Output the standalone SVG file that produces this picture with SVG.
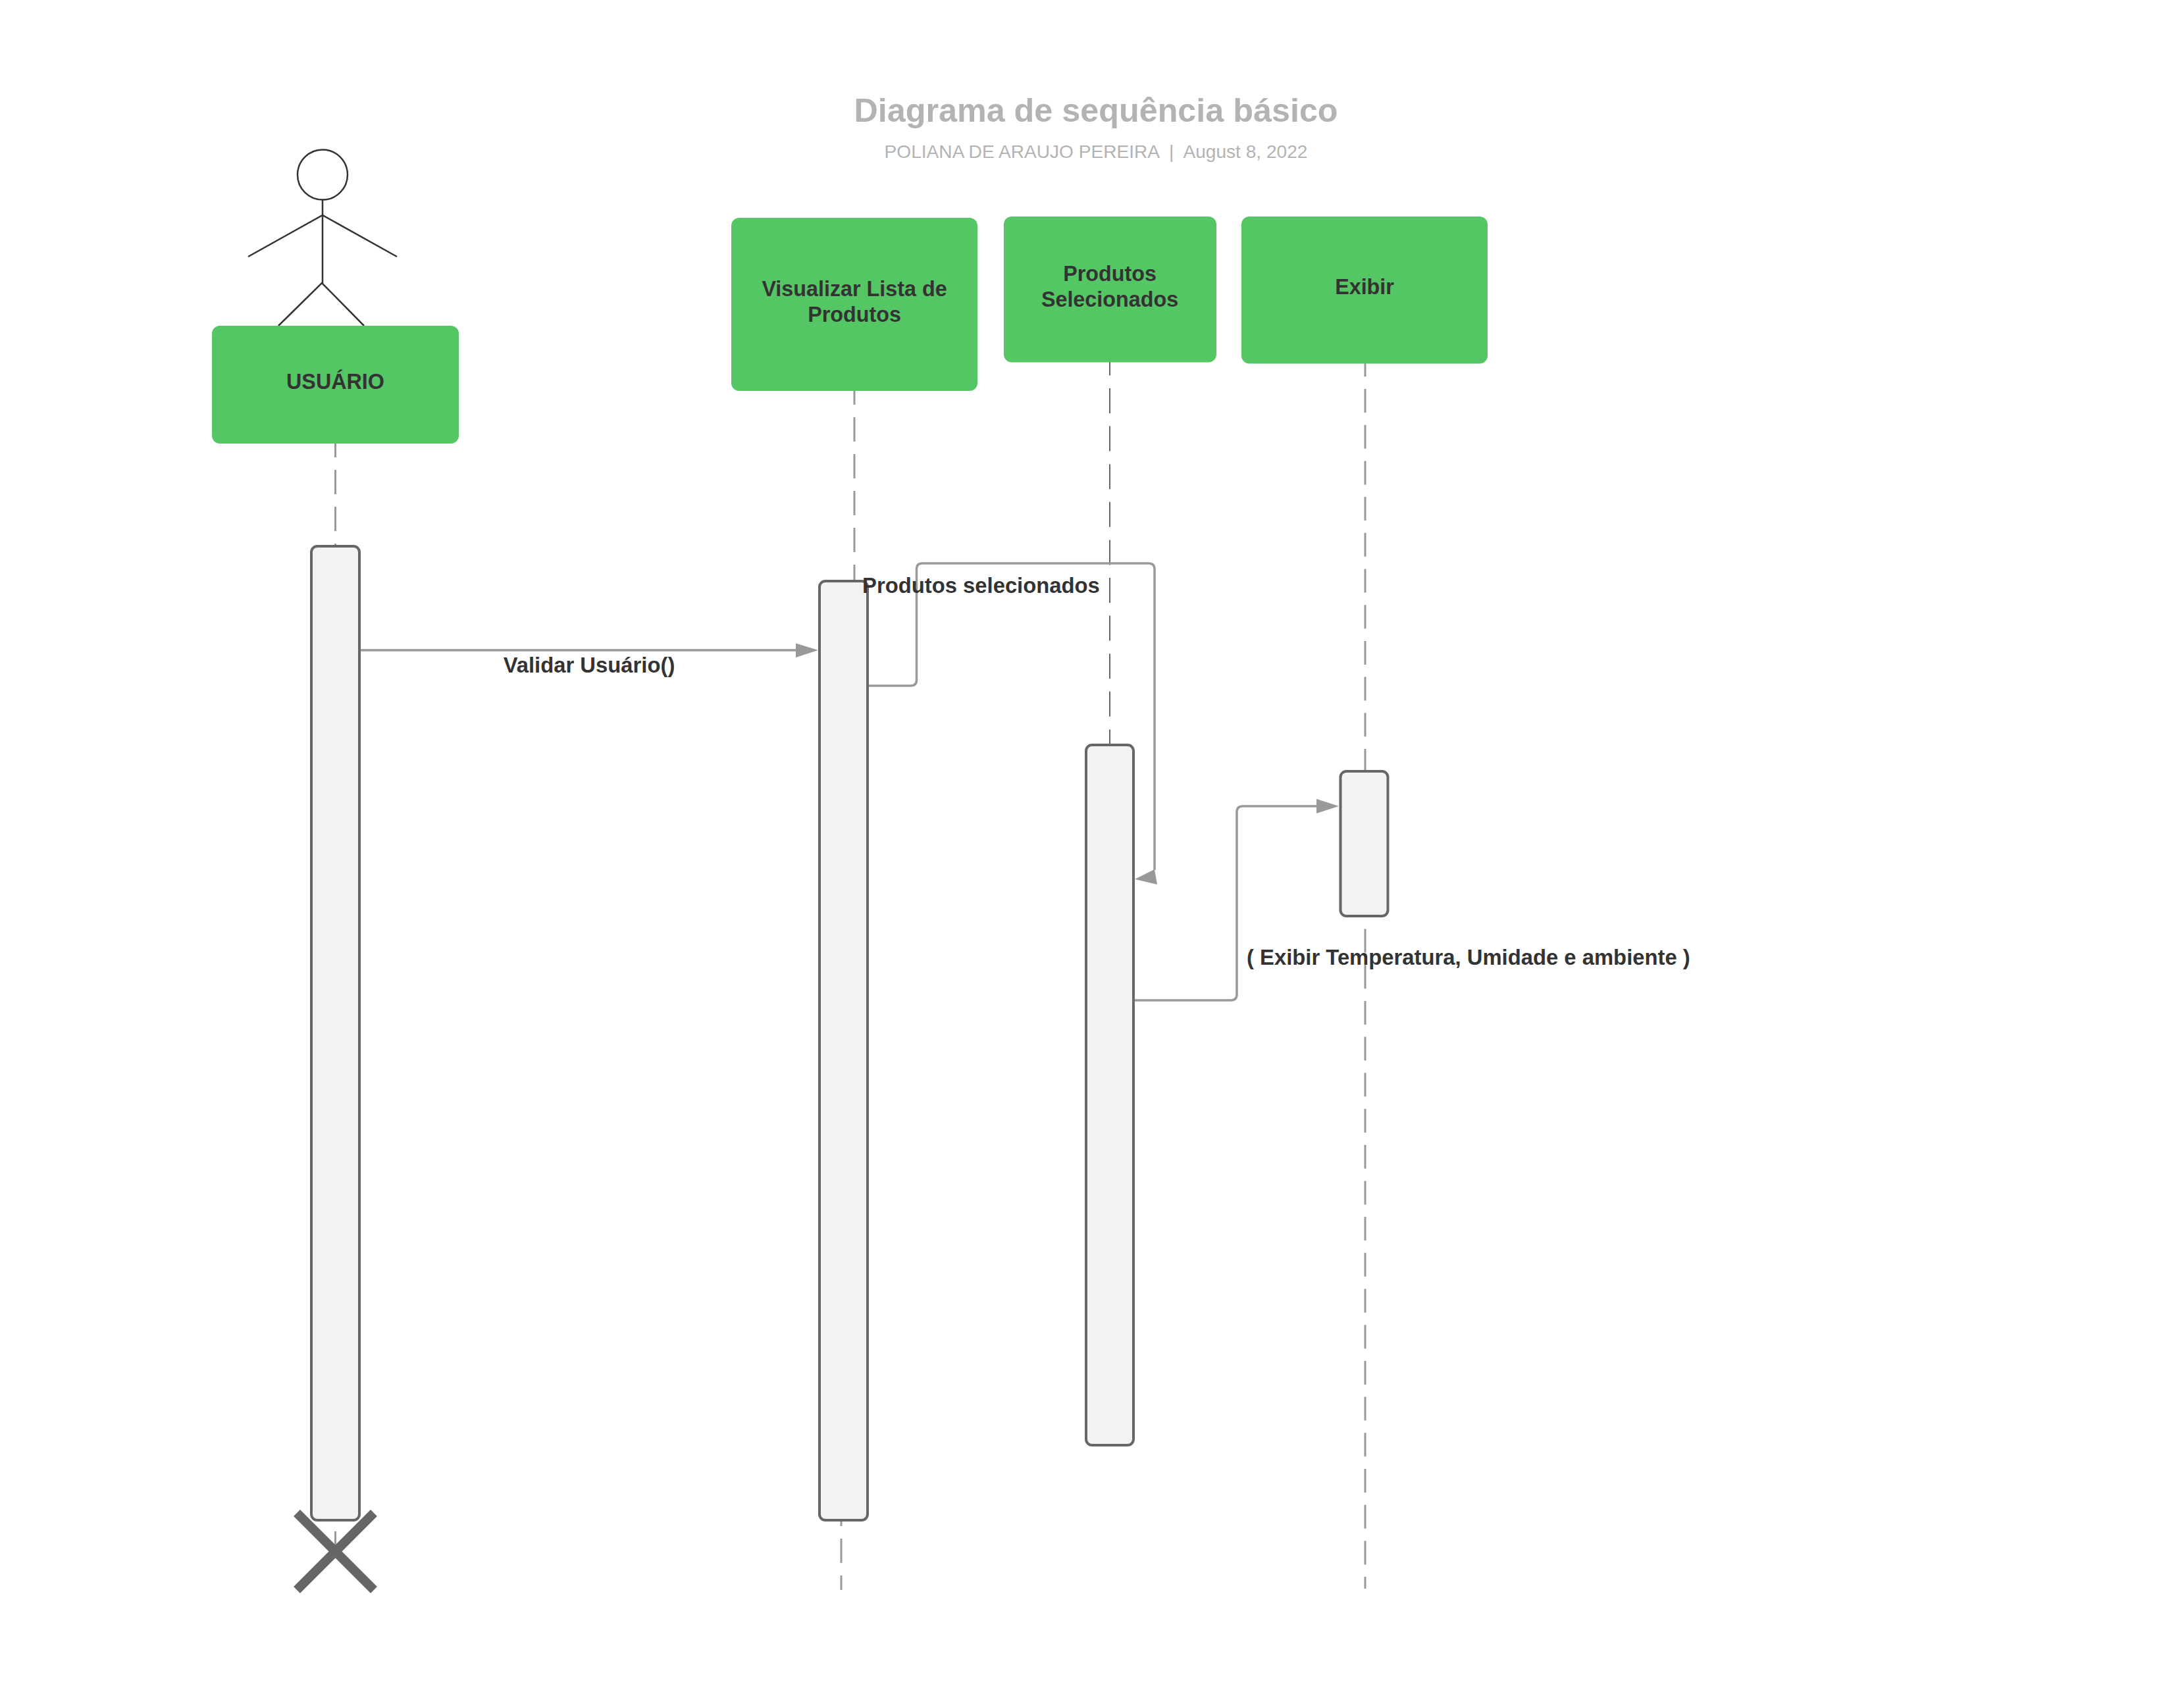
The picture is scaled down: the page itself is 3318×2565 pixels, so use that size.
<svg xmlns="http://www.w3.org/2000/svg" width="3318" height="2565" viewBox="0 0 3318 2565">
<defs>
<style>
text{font-family:"Liberation Sans",Arial,sans-serif;fill:#333;font-weight:700;font-size:32.8px}
.n{font-size:32.3px}
.m{text-anchor:middle}
.box{fill:#55c664}
.act{fill:#f2f2f2;stroke:#666;stroke-width:4}
.ll{fill:none;stroke:#999;stroke-width:3}
.msg{fill:none;stroke:#999;stroke-width:3.5}
.head{fill:#999}
.actor{fill:none;stroke:#333;stroke-width:2.5}
</style>
</defs>
<rect width="3318" height="2565" fill="#fff"/>
<g id="title">
<text class="m" x="1665" y="184.500" style="font-size:50.3px;fill:#b3b3b3">Diagrama de sequência básico</text>
<text class="m" x="1665" y="240" xml:space="preserve" style="font-size:28.100px;font-weight:400;fill:#b3b3b3;white-space:pre">POLIANA DE ARAUJO PEREIRA  |  August 8, 2022</text>
</g>
<g id="actor">
<circle class="actor" cx="490" cy="265.500" r="38"/>
<path class="actor" d="M490 304V430M377 390L490 327L603 390M423 495L489 430L553 495"/>
</g>
<g id="connectors">
<path class="ll" d="M509.500 674V829" stroke-dasharray="37 19" stroke-dashoffset="16"/>
<path class="ll" d="M509.500 2327V2347" stroke-width="2"/>
<path class="ll" d="M1298 594V882" stroke-dasharray="37 19" stroke-dashoffset="16"/>
<path class="ll" d="M1278 2311V2416" stroke-dasharray="37 19" stroke-dashoffset="29"/>
<path d="M1686 550V1130" fill="none" stroke="#333" stroke-width="1.500" stroke-dasharray="38 19.600" stroke-dashoffset="17.600"/>
<path class="ll" d="M2074 552V2414" stroke-dasharray="36 18.700" stroke-dashoffset="15.700"/>
<path class="msg" d="M547 988H1212"/>
<polygon class="head" points="1243,988 1209,977.500 1209,999"/>
<path class="msg" d="M1318 1042H1384Q1392.500 1042 1392.500 1033V865Q1392.500 856 1401 856H1745Q1754 856 1754 865V1322"/>
<polygon class="head" points="1724,1336 1754,1321 1758,1344"/>
<path class="msg" d="M1722 1520H1870Q1879 1520 1879 1511V1234Q1879 1225 1888 1225H2003"/>
<polygon class="head" points="2034,1225 2000,1214 2000,1236"/>
</g>
<g id="node-usuario">
<rect class="box" x="322" y="495" width="375" height="179" rx="12"/>
<text class="m n" x="509.500" y="591">USUÁRIO</text>
</g>
<g id="node-visualizar">
<rect class="box" x="1111" y="331" width="374" height="263" rx="12"/>
<text class="m n" x="1298" y="450">Visualizar Lista de</text>
<text class="m n" x="1298" y="489">Produtos</text>
</g>
<g id="node-produtos">
<rect class="box" x="1525" y="329" width="323" height="221.500" rx="12"/>
<text class="m n" x="1686" y="427">Produtos</text>
<text class="m n" x="1686" y="466">Selecionados</text>
</g>
<g id="node-exibir">
<rect class="box" x="1886" y="329" width="374" height="223.500" rx="12"/>
<text class="m n" x="2073" y="447">Exibir</text>
</g>
<g id="activation-usuario"><rect class="act" x="473" y="830" width="73" height="1480" rx="9"/></g>
<g id="activation-visualizar"><rect class="act" x="1245" y="883" width="73" height="1427" rx="9"/></g>
<g id="activation-produtos"><rect class="act" x="1650" y="1132" width="72" height="1064" rx="9"/></g>
<g id="activation-exibir"><rect class="act" x="2036.500" y="1172" width="72" height="220" rx="9"/></g>
<g id="destroy"><path d="M451 2299L568 2416M568 2299L451 2416" fill="none" stroke="#666" stroke-width="14"/></g>
<g id="labels">
<text class="m" x="895" y="1022">Validar Usuário()</text>
<text x="1310" y="901">Produtos selecionados</text>
<text x="1894" y="1466">( Exibir Temperatura, Umidade e ambiente )</text>
</g>
</svg>
